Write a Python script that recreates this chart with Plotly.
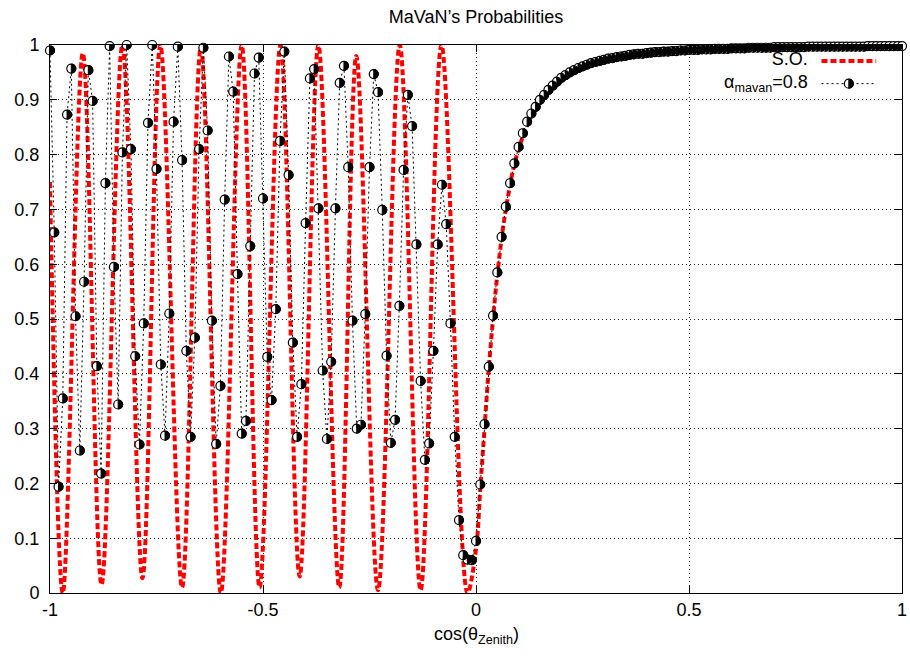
import numpy as np
import plotly.graph_objects as go

# ---- data ----
# S.O. curve: turning points and read points along the smooth curve
SO_X = [-1.0, -0.970, -0.923, -0.879, -0.830, -0.783, -0.741, -0.690, -0.646, -0.599,
        -0.550, -0.508, -0.459, -0.414, -0.370, -0.321, -0.281, -0.230, -0.179, -0.130,
        -0.081, -0.020, 0.0, 0.01, 0.02, 0.03, 0.04, 0.05, 0.07, 0.10, 0.15, 0.20,
        0.30, 0.50, 0.70, 1.0]
SO_Y = [0.75, 0.0, 0.985, 0.015, 1.0, 0.027, 1.0, 0.01, 0.995, 0.0,
        1.0, 0.01, 1.0, 0.03, 1.0, 0.01, 0.98, 0.005, 1.0, 0.005,
        1.0, 0.0, 0.08, 0.19, 0.30, 0.41, 0.50, 0.58, 0.70, 0.81, 0.90, 0.94,
        0.973, 0.991, 0.996, 0.998]

# MaVaN (alpha = 0.8) sampled every 0.01 in cos(theta) from -1 to 1
MAVAN_X = np.round(np.linspace(-1.0, 1.0, 201), 2)
MAVAN_Y = [
    0.990, 0.658, 0.194, 0.355, 0.873, 0.957, 0.505, 0.260, 0.568, 0.954,
    0.898, 0.414, 0.218, 0.748, 0.998, 0.595, 0.344, 0.804, 1.000, 0.810,
    0.432, 0.271, 0.492, 0.858, 1.000, 0.774, 0.417, 0.287, 0.510, 0.860,
    0.997, 0.790, 0.442, 0.285, 0.466, 0.810, 0.995, 0.844, 0.497, 0.272,
    0.378, 0.718, 0.979, 0.915, 0.582, 0.291, 0.314, 0.633, 0.948, 0.977,
    0.720, 0.431, 0.352, 0.518, 0.825, 0.988, 0.763, 0.457, 0.285, 0.381,
    0.675, 0.939, 0.956, 0.702, 0.406, 0.281, 0.422, 0.702, 0.931, 0.962,
    0.777, 0.497, 0.300, 0.307, 0.509, 0.777, 0.947, 0.914, 0.699, 0.433,
    0.274, 0.316, 0.524, 0.772, 0.909, 0.852, 0.636, 0.387, 0.243, 0.273,
    0.442, 0.636, 0.745, 0.673, 0.492, 0.285, 0.133, 0.069, 0.061, 0.060,
    0.095, 0.198, 0.308, 0.413, 0.506, 0.585, 0.650, 0.705, 0.748, 0.784,
    0.814, 0.839, 0.860, 0.875, 0.887, 0.900, 0.909, 0.918, 0.926, 0.933,
    0.940, 0.945, 0.950, 0.954, 0.958, 0.961, 0.964, 0.967, 0.969, 0.971,
    0.973, 0.975, 0.976, 0.978, 0.979, 0.980, 0.982, 0.983, 0.984, 0.984,
    0.985, 0.986, 0.987, 0.987, 0.988, 0.988, 0.989, 0.989, 0.990, 0.990,
    0.991, 0.991, 0.991, 0.992, 0.992, 0.992, 0.993, 0.993, 0.993, 0.993,
    0.994, 0.994, 0.994, 0.994, 0.995, 0.995, 0.995, 0.995, 0.995, 0.995,
    0.996, 0.996, 0.996, 0.996, 0.996, 0.996, 0.996, 0.996, 0.997, 0.997,
    0.997, 0.997, 0.997, 0.997, 0.997, 0.997, 0.997, 0.997, 0.997, 0.997,
    0.997, 0.997, 0.998, 0.998, 0.998, 0.998, 0.998, 0.998, 0.998, 0.998,
    0.998,
]

X_TICKS = [-1, -0.5, 0, 0.5, 1]
X_TICK_TEXT = ["-1", "-0.5", "0", "0.5", "1"]
Y_TICKS = [0, 0.1, 0.2, 0.3, 0.4, 0.5, 0.6, 0.7, 0.8, 0.9, 1.0]
Y_TICK_TEXT = ["0", "0.1", "0.2", "0.3", "0.4", "0.5", "0.6", "0.7", "0.8", "0.9", "1"]

TITLE = "MaVaN\u2019s Probabilities"
X_LABEL = "cos(\u03b8<sub>Zenith</sub>)"
SO_NAME = "S.O."
MAVAN_NAME = "\u03b1<sub>mavan</sub>=0.8"

FONT = "Liberation Sans, Arial, sans-serif"
FS = 18
R = 4.5  # marker radius in px
HALF_PATH = f"M0,-{R} C{R*4/3:.2f},-{R} {R*4/3:.2f},{R} 0,{R} Z"

fig = go.Figure()
fig.add_trace(go.Scatter(
    x=SO_X, y=SO_Y, mode="lines", name=SO_NAME, showlegend=False,
    line=dict(color="#ff0000", width=4, dash="6px,3px", shape="spline", smoothing=1.0),
))
fig.add_trace(go.Scatter(
    x=MAVAN_X, y=MAVAN_Y, mode="lines+markers", name=MAVAN_NAME, showlegend=False,
    cliponaxis=False,
    line=dict(color="black", width=1, dash="2px,3px"),
    marker=dict(symbol="circle", size=2 * R, color="white",
                line=dict(color="black", width=1.2)),
))

# right half of each marker filled black (gnuplot half-filled circle)
shapes = []
for xv, yv in zip(MAVAN_X, MAVAN_Y):
    shapes.append(dict(type="path", xref="x", yref="y", xsizemode="pixel", ysizemode="pixel",
                       xanchor=float(xv), yanchor=float(yv), path=HALF_PATH,
                       fillcolor="black", line=dict(color="black", width=1), layer="above"))

axis_common = dict(
    showline=True, linecolor="black", linewidth=1, mirror="ticks",
    ticks="inside", ticklen=7, tickcolor="black", tickwidth=1,
    showgrid=True, gridcolor="#222", griddash="1px,3px", gridwidth=1,
    zeroline=False, tickfont=dict(family=FONT, size=FS, color="black"),
)
fig.update_xaxes(range=[-1, 1], tickvals=X_TICKS, ticktext=X_TICK_TEXT,
                 ticklabeloverflow="allow", **axis_common)
fig.update_yaxes(range=[0, 1], tickvals=Y_TICKS, ticktext=Y_TICK_TEXT,
                 ticklabelstandoff=6, ticklabeloverflow="allow", **axis_common)

# legend drawn gnuplot-style: text on the left, sample on the right
LEG_TX = 0.8926
LEG_S0, LEG_S1 = 0.9055, 0.9697
ROW1, ROW2 = 0.971, 0.9295
LEG_MX = (LEG_S0 + LEG_S1) / 2
annotations = [
    dict(text=SO_NAME + "<br>" + MAVAN_NAME, x=LEG_TX, y=(ROW1 + ROW2) / 2,
         xref="paper", yref="paper", xanchor="right", yanchor="middle", align="right",
         showarrow=False, font=dict(family=FONT, size=FS, color="black")),
    dict(text=X_LABEL, x=0.5, y=-0.077, xref="paper", yref="paper",
         xanchor="center", yanchor="middle", showarrow=False,
         font=dict(family=FONT, size=FS, color="black")),
]
shapes += [
    dict(type="line", xref="paper", yref="paper", x0=LEG_S0, x1=LEG_S1, y0=ROW1, y1=ROW1,
         line=dict(color="#ff0000", width=4, dash="6px,3px")),
    dict(type="line", xref="paper", yref="paper", x0=LEG_S0, x1=LEG_S1, y0=ROW2, y1=ROW2,
         line=dict(color="black", width=1, dash="2px,3px")),
    dict(type="circle", xref="paper", yref="paper", xsizemode="pixel", ysizemode="pixel",
         xanchor=LEG_MX, yanchor=ROW2, x0=-R, x1=R, y0=-R, y1=R,
         fillcolor="white", line=dict(color="black", width=1.2)),
    dict(type="path", xref="paper", yref="paper", xsizemode="pixel", ysizemode="pixel",
         xanchor=LEG_MX, yanchor=ROW2, path=HALF_PATH,
         fillcolor="black", line=dict(color="black", width=1)),
]

fig.update_layout(
    width=910, height=656,
    margin=dict(l=50, r=3, t=45, b=63),
    paper_bgcolor="white", plot_bgcolor="white",
    title=dict(text=TITLE, x=0.5, xref="paper", xanchor="center",
               y=1 - 17 / 656, yanchor="middle",
               font=dict(family=FONT, size=FS, color="black")),
    annotations=annotations, shapes=shapes,
    showlegend=False,
)

fig.write_html("out.html")
